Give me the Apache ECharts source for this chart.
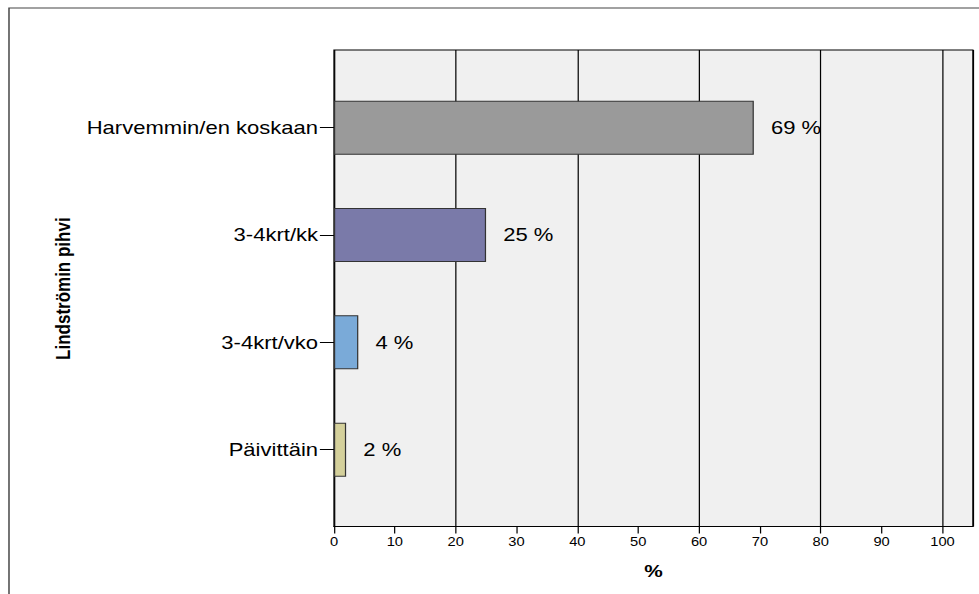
<!DOCTYPE html>
<html>
<head>
<meta charset="utf-8">
<script src="https://cdn.jsdelivr.net/npm/echarts@6/dist/echarts.min.js"></script>
<style>
  html, body { margin: 0; padding: 0; background: #fff; overflow: hidden; }
  /* The chart is laid out on an 800px-wide canvas and widened to 979px,
     which gives the wide lettering of the original export. */
  #chart { width: 800px; height: 594px; transform: scaleX(1.22375); transform-origin: 0 0; }
</style>
</head>
<body>
<div id="chart"></div>
<script>
// Frequency of eating "Lindströmin pihvi"
const categories = ['Harvemmin/en koskaan', '3-4krt/kk', '3-4krt/vko', 'Päivittäin'];
const percents = [69, 25, 4, 2];
const barColors = ['#9a9a9a', '#7a7aa9', '#7aaad8', '#d4d09b'];
const axisMin = 0;
const axisMax = 105;
const tickStep = 10;
const gridStep = 20;

const FONT = '"Liberation Sans", Arial, Helvetica, sans-serif';

const chart = echarts.init(document.getElementById('chart'), null, {
  renderer: 'svg', width: 800, height: 594
});

const plotLeft = 272.9;
const plotWidth = 522.1;

const option = {
  animation: false,
  backgroundColor: '#ffffff',
  textStyle: { fontFamily: FONT, color: '#000' },
  graphic: [{
    type: 'rect',
    silent: true,
    z: -10,
    shape: { x: 7.35, y: 8, width: 1000, height: 1000 },
    style: { fill: 'none', stroke: '#444', lineWidth: 1.2 }
  }],
  grid: [
    { // plot frame, background and vertical grid lines
      left: plotLeft, top: 50, width: plotWidth, height: 476.5,
      show: true, backgroundColor: '#f0f0f0', borderColor: '#000', borderWidth: 1
    },
    { // bar band area, inset from the frame
      left: plotLeft, top: 74, width: plotWidth, height: 429.3
    }
  ],
  xAxis: [
    {
      gridIndex: 0, type: 'value', min: axisMin, max: axisMax, interval: tickStep,
      axisLine: { show: true, lineStyle: { color: '#000', width: 1 } },
      axisTick: { show: true, length: 7, lineStyle: { color: '#000', width: 1 } },
      axisLabel: { show: true, margin: 9, fontSize: 12, color: '#000', fontFamily: FONT, showMaxLabel: false },
      splitLine: { show: false },
      name: '%', nameLocation: 'middle', nameGap: 36,
      nameTextStyle: { fontSize: 17, fontWeight: 'bold', color: '#000', fontFamily: FONT }
    },
    {
      gridIndex: 0, type: 'value', min: axisMin, max: axisMax, interval: gridStep, position: 'top',
      axisLine: { show: false }, axisTick: { show: false }, axisLabel: { show: false },
      splitLine: { show: true, lineStyle: { color: '#000', width: 1 } }
    },
    {
      gridIndex: 1, type: 'value', min: axisMin, max: axisMax, show: false,
      splitLine: { show: false }
    }
  ],
  yAxis: [
    { gridIndex: 0, type: 'value', show: false, splitLine: { show: false } },
    {
      gridIndex: 1, type: 'category', inverse: true, data: categories,
      axisLine: { show: false },
      axisTick: { show: true, alignWithLabel: true, length: 11.5, lineStyle: { color: '#000', width: 1 } },
      axisLabel: { margin: 13, fontSize: 18, color: '#000', fontFamily: FONT },
      name: 'Lindströmin pihvi', nameLocation: 'middle', nameRotate: 90, nameGap: 213,
      nameTextStyle: { fontSize: 17, fontWeight: 'bold', color: '#000', fontFamily: FONT }
    }
  ],
  series: [{
    type: 'bar',
    xAxisIndex: 2,
    yAxisIndex: 1,
    barWidth: 54,
    data: percents.map((v, i) => ({ value: v, itemStyle: { color: barColors[i] } })),
    itemStyle: { borderColor: '#333', borderWidth: 1 },
    label: {
      show: true, position: 'right', distance: 14,
      formatter: '{c} %', fontSize: 18, color: '#000', fontFamily: FONT
    }
  }]
};

chart.setOption(option);
</script>
</body>
</html>
